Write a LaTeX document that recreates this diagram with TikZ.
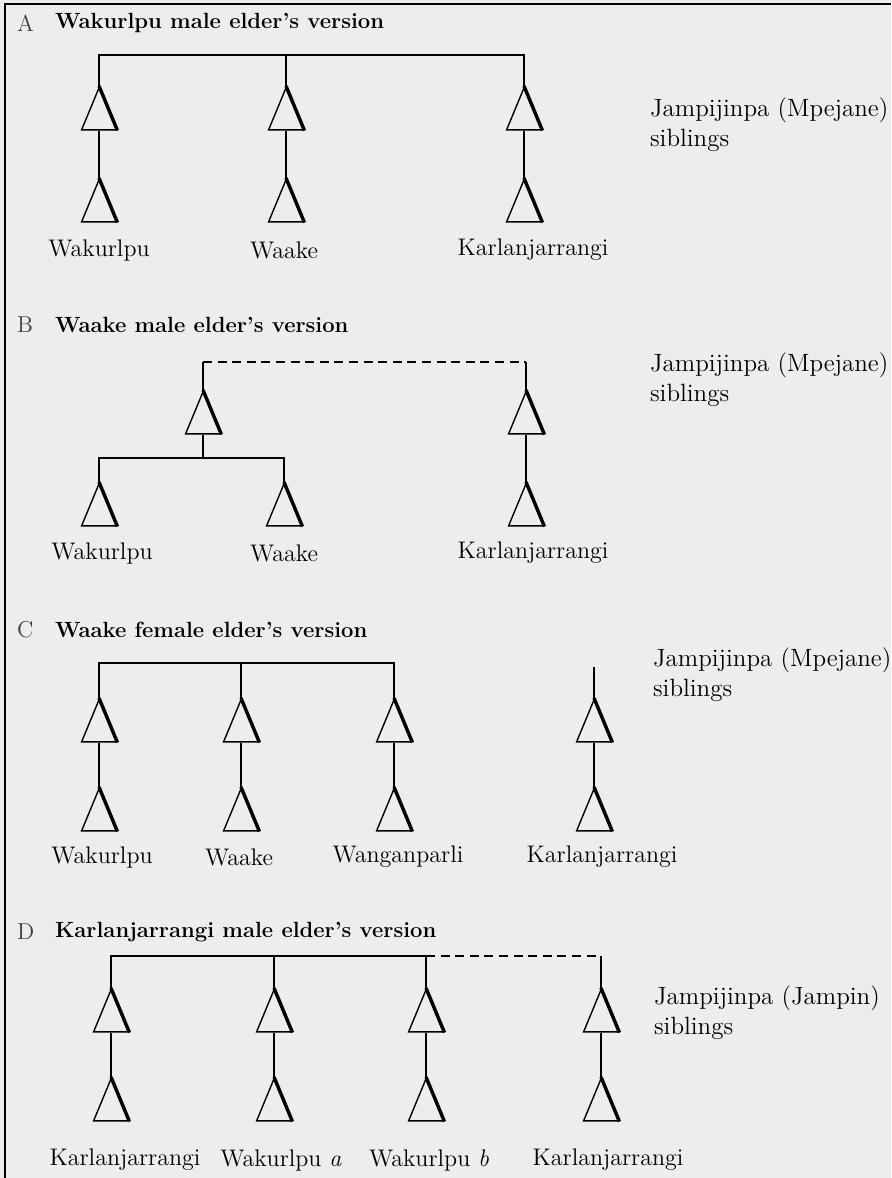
\documentclass[tikz,border=0pt]{standalone}
\usepackage{fontspec}
\usetikzlibrary{shapes.geometric}

\begin{document}
\begin{tikzpicture}[x=0.5pt,y=-0.5pt,
    male/.style={draw,isosceles triangle,isosceles triangle apex angle=45,
      shape border rotate=90,minimum height=21pt,inner sep=0pt,anchor=apex,line width=0.7pt},
    heavy/.style={line width=1.7pt},
    link/.style={line width=0.9pt},
    bar/.style={line width=1pt},
    dashbar/.style={line width=1pt,dash pattern=on 4.5pt off 2.8pt},
    kin/.style={font=\fontsize{12}{14}\selectfont},
    sibs/.style={anchor=west,align=left,font=\fontsize{12.5}{15}\selectfont},
    panel/.style={anchor=west,text=black!75,font=\fontsize{11.5}{13}\selectfont},
    title/.style={anchor=west,font=\fontsize{11}{13}\selectfont\bfseries}]
	\useasboundingbox[fill=black!7] (0,0) rectangle (891,1178);
	\draw[line width=1.4pt] (5,1178) -- (5,4) -- (891,4);

	% A
	\node[panel] (pa) at (10,23) {A};
	\node[title] (ta) at (48,23) {Wakurlpu male elder's version};
	\coordinate (atop) at (99,55);
	\node[male] (a1) at (99,86) {};
	\node[male] (a2) at (99,178) {};
	\node[male] (b1) at (286,86) {};
	\node[male] (b2) at (286,178) {};
	\node[male] (c1) at (524,86) {};
	\node[male] (c2) at (524,178) {};
	\draw[bar] (a1.apex) -- (a1.apex |- atop) -- (c1.apex |- atop) -- (c1.apex);
	\draw[link] (b1.apex) -- (b1.apex |- atop);
	\draw[link] (a2.apex) -- (a1.lower side);
	\draw[link] (b2.apex) -- (b1.lower side);
	\draw[link] (c2.apex) -- (c1.lower side);
	\node[kin] (la) at (99,250) {Wakurlpu};
	\node[kin] (lb) at (284,250) {Waake};
	\node[kin] (lc) at (533,250) {Karlanjarrangi};
	\node[sibs] (sa) at (643,125) {Jampijinpa (Mpejane)\\siblings};

	% B
	\node[panel] (pb) at (10,325) {B};
	\node[title] (tb) at (48,325) {Waake male elder's version};
	\coordinate (btop) at (203,362);
	\coordinate (bmid) at (99,458);
	\node[male] (d1) at (203,390) {};
	\node[male] (e1) at (526,390) {};
	\node[male] (d2) at (99,482) {};
	\node[male] (d3) at (284,482) {};
	\node[male] (e2) at (526,482) {};
	\draw[link] (d1.apex) -- (d1.apex |- btop);
	\draw[link] (e1.apex) -- (e1.apex |- btop);
	\draw[dashbar] (btop) -- (e1.apex |- btop);
	\draw[link] (d1.lower side) -- (d1.lower side |- bmid);
	\draw[bar] (d2.apex) -- (d2.apex |- bmid) -- (d3.apex |- bmid) -- (d3.apex);
	\draw[link] (e2.apex) -- (e1.lower side);
	\node[kin] (ld) at (102,553) {Wakurlpu};
	\node[kin] (le) at (284,553) {Waake};
	\node[kin] (lf) at (533,553) {Karlanjarrangi};
	\node[sibs] (sb) at (643,380) {Jampijinpa (Mpejane)\\siblings};

	% C
	\node[panel] (pc) at (10,630) {C};
	\node[title] (tc) at (48,630) {Waake female elder's version};
	\coordinate (ctop) at (99,663);
	\coordinate (cstub) at (594,667);
	\node[male] (f1) at (99,698) {};
	\node[male] (f2) at (99,787) {};
	\node[male] (g1) at (241,698) {};
	\node[male] (g2) at (241,787) {};
	\node[male] (h1) at (394,698) {};
	\node[male] (h2) at (394,787) {};
	\node[male] (i1) at (594,698) {};
	\node[male] (i2) at (594,787) {};
	\draw[bar] (f1.apex) -- (f1.apex |- ctop) -- (h1.apex |- ctop) -- (h1.apex);
	\draw[link] (g1.apex) -- (g1.apex |- ctop);
	\draw[link] (i1.apex) -- (cstub);
	\draw[link] (f2.apex) -- (f1.lower side);
	\draw[link] (g2.apex) -- (g1.lower side);
	\draw[link] (h2.apex) -- (h1.lower side);
	\draw[link] (i2.apex) -- (i1.lower side);
	\node[kin] (lg) at (102,857) {Wakurlpu};
	\node[kin] (lh) at (239,857) {Waake};
	\node[kin] (li) at (398,857) {Wanganparli};
	\node[kin] (lj) at (602,857) {Karlanjarrangi};
	\node[sibs] (sc) at (646,675) {Jampijinpa (Mpejane)\\siblings};

	% D
	\node[panel] (pd) at (10,932) {D};
	\node[title] (td) at (48,932) {Karlanjarrangi male elder's version};
	\coordinate (dtop) at (111,956);
	\node[male] (j1) at (111,988) {};
	\node[male] (j2) at (111,1077) {};
	\node[male] (k1) at (274,988) {};
	\node[male] (k2) at (274,1077) {};
	\node[male] (m1) at (426,988) {};
	\node[male] (m2) at (426,1077) {};
	\node[male] (n1) at (601,988) {};
	\node[male] (n2) at (601,1077) {};
	\draw[bar] (j1.apex) -- (j1.apex |- dtop) -- (m1.apex |- dtop) -- (m1.apex);
	\draw[dashbar] (m1.apex |- dtop) -- (n1.apex |- dtop);
	\draw[link] (n1.apex |- dtop) -- (n1.apex);
	\draw[link] (k1.apex) -- (k1.apex |- dtop);
	\draw[link] (j2.apex) -- (j1.lower side);
	\draw[link] (k2.apex) -- (k1.lower side);
	\draw[link] (m2.apex) -- (m1.lower side);
	\draw[link] (n2.apex) -- (n1.lower side);
	\node[kin] (lk) at (125,1160) {Karlanjarrangi};
	\node[kin] (lm) at (281,1160) {Wakurlpu \textit{a}};
	\node[kin] (ln) at (429,1160) {Wakurlpu \textit{b}};
	\node[kin] (lo) at (608,1160) {Karlanjarrangi};
	\node[sibs] (sd) at (647,1013) {Jampijinpa (Jampin)\\siblings};

	% heavy right side of each triangle
	\foreach \t in {a1,a2,b1,b2,c1,c2,d1,d2,d3,e1,e2,f1,f2,g1,g2,h1,h2,i1,i2,j1,j2,k1,k2,m1,m2,n1,n2}
	  \draw[heavy] (\t.apex) -- (\t.right corner);
\end{tikzpicture}
\end{document}
